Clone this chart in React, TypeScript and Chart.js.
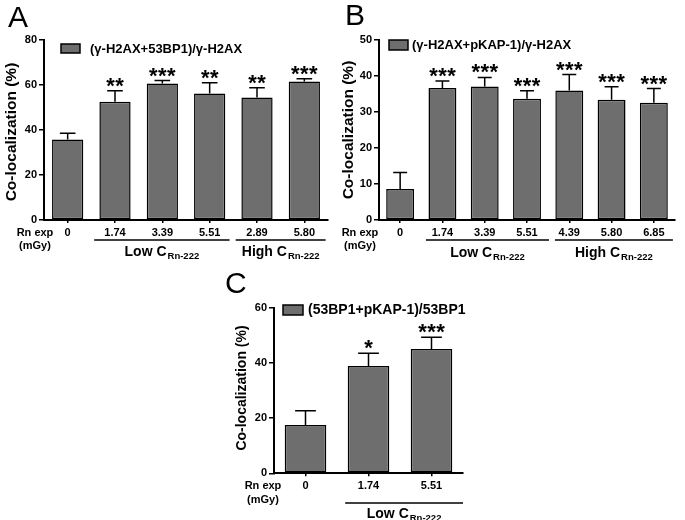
import React, { useEffect, useRef } from 'react';
import { Chart, registerables } from 'chart.js';
Chart.register(...registerables);

const FONT = '"Liberation Sans", Arial, Helvetica, sans-serif';

// ---- Data ----
const catsA = ['0', '1.74', '3.39', '5.51', '2.89', '5.80'];
const valsA = [35.7, 52.4, 60.5, 56.1, 54.3, 61.4];
const errsA = [2.7, 4.9, 1.3, 4.7, 4.3, 1.2];
const starsA = [0, 2, 3, 2, 2, 3];
const legendA = '(γ-H2AX+53BP1)/γ-H2AX';

const catsB = ['0', '1.74', '3.39', '5.51', '4.39', '5.80', '6.85'];
const valsB = [8.6, 36.7, 37.1, 33.7, 36.0, 33.4, 32.6];
const errsB = [4.6, 1.9, 2.5, 2.2, 4.4, 3.6, 3.9];
const starsB = [0, 3, 3, 3, 3, 3, 3];
const legendB = '(γ-H2AX+pKAP-1)/γ-H2AX';

const catsC = ['0', '1.74', '5.51'];
const valsC = [17.5, 38.9, 45.0];
const errsC = [5.2, 4.6, 4.3];
const starsC = [0, 1, 3];
const legendC = '(53BP1+pKAP-1)/53BP1';

const yTitle = 'Co-localization (%)';
const rnLine1 = 'Rn exp';
const rnLine2 = '(mGy)';
const groupMain = ['Low C', 'High C'];
const groupSub = 'Rn-222';

type Panel = {
  letter: string;
  cats: string[];
  vals: number[];
  errs: number[];
  stars: number[];
  legend: string;
  yMax: number;
  yStep: number;
  box: { left: number; top: number; w: number; h: number };
  area: { l: number; t: number; r: number; b: number };
  letterPos: [number, number];
  legendBox: [number, number, number, number];
  legendText: [number, number, number];
  titlePos: [number, number, number];
  rnPos: [number, number, number];
  groups: { main: string; from: number; to: number }[];
  groupLineY: number;
  groupLabelY: number;
};

const panels: Panel[] = [
  {
    letter: 'A', cats: catsA, vals: valsA, errs: errsA, stars: starsA, legend: legendA,
    yMax: 80, yStep: 20,
    box: { left: 0, top: 0, w: 340, h: 270 },
    area: { l: 44, t: 39.5, r: 328, b: 220 },
    letterPos: [8, 27],
    legendBox: [61, 44, 19, 9],
    legendText: [90, 49, 13],
    titlePos: [12, 132, 15.5],
    rnPos: [35, 233, 246],
    groups: [
      { main: groupMain[0], from: 0.56, to: 3.42 },
      { main: groupMain[1], from: 3.55, to: 5.45 },
    ],
    groupLineY: 240, groupLabelY: 252,
  },
  {
    letter: 'B', cats: catsB, vals: valsB, errs: errsB, stars: starsB, legend: legendB,
    yMax: 50, yStep: 10,
    box: { left: 340, top: 0, w: 345, h: 270 },
    area: { l: 39, t: 40, r: 335, b: 220 },
    letterPos: [5, 25],
    legendBox: [49, 40, 19, 10],
    legendText: [72, 45, 13],
    titlePos: [9, 130, 15.5],
    rnPos: [20, 233, 246],
    groups: [
      { main: groupMain[0], from: 0.61, to: 3.52 },
      { main: groupMain[1], from: 3.66, to: 6.45 },
    ],
    groupLineY: 240, groupLabelY: 253,
  },
  {
    letter: 'C', cats: catsC, vals: valsC, errs: errsC, stars: starsC, legend: legendC,
    yMax: 60, yStep: 20,
    box: { left: 180, top: 270, w: 340, h: 250 },
    area: { l: 94, t: 37.7, r: 283, b: 203.3 },
    letterPos: [45, 23],
    legendBox: [103, 35, 20, 10],
    legendText: [128, 40, 14],
    titlePos: [62.5, 118, 14],
    rnPos: [83, 216, 230],
    groups: [{ main: groupMain[0], from: 0.63, to: 2.5 }],
    groupLineY: 233, groupLabelY: 244,
  },
];

function makeOverlay(p: Panel) {
  return {
    id: 'overlay' + p.letter,
    afterDatasetsDraw(chart: any) {
      const ctx = chart.ctx as CanvasRenderingContext2D;
      const y = chart.scales.y;
      const meta = chart.getDatasetMeta(0);
      ctx.save();
      ctx.strokeStyle = '#000';
      ctx.fillStyle = '#000';
      ctx.lineWidth = 1.5;
      meta.data.forEach((bar: any, i: number) => {
        const cx = bar.x;
        const w = bar.width;
        const yv = y.getPixelForValue(p.vals[i]);
        const yt = y.getPixelForValue(p.vals[i] + p.errs[i]);
        ctx.beginPath();
        ctx.moveTo(cx, yv);
        ctx.lineTo(cx, yt);
        ctx.moveTo(cx - w / 4, yt);
        ctx.lineTo(cx + w / 4, yt);
        ctx.stroke();
        const n = p.stars[i];
        if (n > 0) {
          ctx.font = `bold 22px ${FONT}`;
          ctx.textAlign = 'center';
          ctx.textBaseline = 'alphabetic';
          const m = ctx.measureText('*');
          const desc = m.actualBoundingBoxDescent;
          const baseline = yt - 4 - desc;
          for (let k = 0; k < n; k++) {
            ctx.fillText('*', cx + (k - (n - 1) / 2) * 9, baseline);
          }
        }
      });
      ctx.restore();
    },
    afterDraw(chart: any) {
      const ctx = chart.ctx as CanvasRenderingContext2D;
      const x = chart.scales.x;
      ctx.save();
      ctx.fillStyle = '#000';
      ctx.strokeStyle = '#000';
      // panel letter
      ctx.font = `30px ${FONT}`;
      ctx.textAlign = 'left';
      ctx.textBaseline = 'alphabetic';
      ctx.fillText(p.letter, p.letterPos[0], p.letterPos[1]);
      // legend
      const [bx, by, bw, bh] = p.legendBox;
      ctx.fillStyle = '#6e6e6e';
      ctx.fillRect(bx, by, bw, bh);
      ctx.lineWidth = 1.5;
      ctx.strokeRect(bx, by, bw, bh);
      ctx.fillStyle = '#000';
      ctx.font = `bold ${p.legendText[2]}px ${FONT}`;
      ctx.textBaseline = 'middle';
      ctx.fillText(p.legend, p.legendText[0], p.legendText[1]);
      // y title
      ctx.save();
      ctx.translate(p.titlePos[0], p.titlePos[1]);
      ctx.rotate(-Math.PI / 2);
      ctx.font = `bold ${p.titlePos[2]}px ${FONT}`;
      ctx.textAlign = 'center';
      ctx.textBaseline = 'middle';
      ctx.fillText(yTitle, 0, 0);
      ctx.restore();
      // Rn exp (mGy)
      ctx.font = `bold 11px ${FONT}`;
      ctx.textAlign = 'center';
      ctx.textBaseline = 'middle';
      ctx.fillText(rnLine1, p.rnPos[0], p.rnPos[1]);
      ctx.fillText(rnLine2, p.rnPos[0], p.rnPos[2]);
      // groups
      p.groups.forEach((g) => {
        const x0 = x.getPixelForValue(g.from);
        const x1 = x.getPixelForValue(g.to);
        ctx.lineWidth = 1.5;
        ctx.beginPath();
        ctx.moveTo(x0, p.groupLineY);
        ctx.lineTo(x1, p.groupLineY);
        ctx.stroke();
        ctx.font = `bold 14px ${FONT}`;
        const wMain = ctx.measureText(g.main).width;
        ctx.font = `bold 9.5px ${FONT}`;
        const wSub = ctx.measureText(groupSub).width;
        const total = wMain + 1 + wSub;
        const sx = (x0 + x1) / 2 - total / 2;
        ctx.textAlign = 'left';
        ctx.textBaseline = 'middle';
        ctx.font = `bold 14px ${FONT}`;
        ctx.fillText(g.main, sx, p.groupLabelY);
        ctx.font = `bold 9.5px ${FONT}`;
        ctx.fillText(groupSub, sx + wMain + 1, p.groupLabelY + 4);
      });
      ctx.restore();
    },
  };
}

function PanelChart({ p }: { p: Panel }) {
  const ref = useRef<HTMLCanvasElement | null>(null);
  useEffect(() => {
    if (!ref.current) return;
    const { w, h } = p.box;
    const a = p.area;
    const chart = new Chart(ref.current, {
      type: 'bar',
      data: {
        labels: p.cats,
        datasets: [
          {
            label: p.legend,
            data: p.vals,
            backgroundColor: '#6e6e6e',
            borderColor: '#000',
            borderWidth: 1.5,
            borderSkipped: false,
            categoryPercentage: 1,
            barPercentage: 0.66,
          },
        ],
      },
      options: {
        animation: false,
        responsive: false,
        maintainAspectRatio: false,
        layout: { padding: { left: 0, top: a.t, right: w - a.r, bottom: 0 } },
        plugins: { legend: { display: false }, tooltip: { enabled: false }, title: { display: false } },
        scales: {
          x: {
            type: 'category',
            offset: true,
            grid: { display: true, drawOnChartArea: false, drawTicks: true, tickLength: 3, color: '#000', lineWidth: 1.5, offset: false },
            border: { display: true, color: '#000', width: 2 },
            ticks: { color: '#000', font: { family: FONT, size: 11, weight: 'bold' }, padding: 3, maxRotation: 0, autoSkip: false },
            afterFit: (s: any) => { s.height = h - a.b; },
          },
          y: {
            min: 0,
            max: p.yMax,
            grid: { display: true, drawOnChartArea: false, drawTicks: true, tickLength: 5, color: '#000', lineWidth: 1.5 },
            border: { display: true, color: '#000', width: 2 },
            ticks: { stepSize: p.yStep, color: '#000', font: { family: FONT, size: 11, weight: 'bold' }, padding: 2 },
            afterFit: (s: any) => { s.width = a.l; },
          },
        },
      } as any,
      plugins: [makeOverlay(p)],
    });
    return () => chart.destroy();
  }, [p]);
  return (
    <div style={{ position: 'absolute', left: p.box.left, top: p.box.top, width: p.box.w, height: p.box.h }}>
      <canvas ref={ref} width={p.box.w} height={p.box.h} style={{ width: p.box.w, height: p.box.h, display: 'block' }} />
    </div>
  );
}

export default function App() {
  return (
    <div style={{ position: 'absolute', left: 0, top: 0, width: 685, height: 520, background: '#fff' }}>
      {panels.map((p) => (
        <PanelChart key={p.letter} p={p} />
      ))}
    </div>
  );
}
